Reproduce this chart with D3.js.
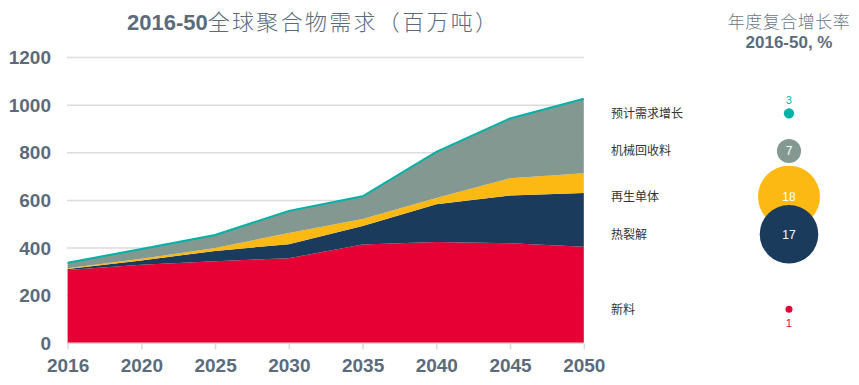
<!DOCTYPE html>
<html><head><meta charset="utf-8">
<script src="https://cdn.jsdelivr.net/npm/d3@7"></script>
<style>
body{margin:0;background:#fff;}
svg{display:block;}
</style></head>
<body>
<svg id="c" width="859" height="385"></svg>
<script>
// ---- data ----
const years = ["2016","2020","2025","2030","2035","2040","2045","2050"];
const virgin = [308,330,345,357,415,425,420,405];
const pyrolysis = [4,18,43,59,78,159,201,226];
const monomer = [3,7,12,47,29,26,72,83];
const mechanical = [23,41,55,93,95,194,251,313];
const yTicks = [0,200,400,600,800,1000,1200];
const cagrLabels = ["预计需求增长","机械回收料","再生单体","热裂解","新料"];
const cagrValues = [3,7,18,17,1];

const title = "2016-50";
const titleCn = "全球聚合物需求（百万吨）";

// ---- styling ----
const C = {red:"#e60033", navy:"#1b3b5d", yellow:"#fdb913", gray:"#839891", teal:"#00b2a7"};
const textCol = "#5b6b7c";
const svg = d3.select("#c");

const x = d3.scalePoint().domain(years).range([67.6, 583.8]);
const y = d3.scaleLinear().domain([0,1200]).range([343.3, 57.5]);

// gridlines
svg.append("g").selectAll("line").data(yTicks.filter(d=>d>0)).join("line")
  .attr("x1",67).attr("x2",584).attr("y1",d=>y(d)).attr("y2",d=>y(d))
  .attr("stroke","#dcdcdc").attr("stroke-width",1.5);

// stacked area
const rows = years.map((yr,i)=>({year:yr, virgin:virgin[i], pyrolysis:pyrolysis[i], monomer:monomer[i], mechanical:mechanical[i]}));
const keys = ["virgin","pyrolysis","monomer","mechanical"];
const colors = {virgin:C.red, pyrolysis:C.navy, monomer:C.yellow, mechanical:C.gray};
const stack = d3.stack().keys(keys)(rows);
const area = d3.area().x(d=>x(d.data.year)).y0(d=>y(d[0])).y1(d=>y(d[1]));
svg.append("g").selectAll("path").data(stack).join("path")
  .attr("d",area).attr("fill",d=>colors[d.key]);

// total line
const line = d3.line().x(d=>x(d.data.year)).y(d=>y(d[1]));
svg.append("path").datum(stack[stack.length-1]).attr("d",line)
  .attr("fill","none").attr("stroke",C.teal).attr("stroke-width",2);

// x axis
const xAxis = d3.axisBottom(x).tickSize(6).tickPadding(8);
const gx = svg.append("g").attr("transform",`translate(0,${y(0)})`).call(xAxis);
gx.select(".domain").attr("stroke","#d9d9d9").attr("stroke-width",1.5).attr("d","M67,0H584");
gx.selectAll(".tick line").attr("stroke","#d9d9d9").attr("stroke-width",1.5);
gx.selectAll(".tick text").attr("fill",textCol).attr("font-family","Liberation Sans, Arial, sans-serif")
  .attr("font-size",19).attr("font-weight","bold").attr("dy","0.8em");

// y axis
const yAxis = d3.axisLeft(y).tickValues(yTicks).tickSize(0).tickPadding(0).tickFormat(d3.format("d"));
const gy = svg.append("g").attr("transform","translate(51,0)").call(yAxis);
gy.select(".domain").remove();
gy.selectAll(".tick text").attr("fill",textCol).attr("font-family","Liberation Sans, Arial, sans-serif")
  .attr("font-size",19).attr("font-weight","bold");

// title
const t = svg.append("text").attr("x",127).attr("y",30)
  .attr("font-size",22).attr("fill",textCol);
t.append("tspan").attr("font-family","Liberation Sans, Arial, sans-serif").attr("font-weight","bold").text(title);
t.append("tspan").attr("font-family","Noto Sans CJK SC, sans-serif").attr("font-weight",300).attr("letter-spacing",2.3).text(titleCn);

// right panel title
svg.append("text").attr("x",789).attr("y",28).attr("text-anchor","middle")
  .attr("font-family","Noto Sans CJK SC, sans-serif").attr("font-weight",300).attr("font-size",17)
  .attr("letter-spacing",0.5).attr("fill","#6b7886").text("年度复合增长率");
svg.append("text").attr("x",789).attr("y",48).attr("text-anchor","middle")
  .attr("font-family","Liberation Sans, Arial, sans-serif").attr("font-weight","bold").attr("font-size",17)
  .attr("fill",textCol).text("2016-50, %");

// bubbles
const rowY = [113.3, 151, 196.7, 234.3, 309.3];
const bubbleCol = [C.teal, C.gray, C.yellow, C.navy, C.red];
const r = d3.scaleLinear().domain([0,18]).range([0,31]);
const bx = 789;
const bub = svg.append("g");
cagrValues.forEach((v,i)=>{
  const rad = Math.max(3.5, r(v));
  svg.append("text").attr("x",611).attr("y",rowY[i]).attr("dy","0.36em")
    .attr("font-family","Noto Sans CJK SC, sans-serif").attr("font-size",12).attr("fill","#333")
    .text(cagrLabels[i]);
  bub.append("circle").attr("cx",bx).attr("cy",rowY[i]).attr("r",rad).attr("fill",bubbleCol[i]);
  const inside = rad > 10;
  let ty = rowY[i], col = "#fff";
  if(!inside){
    if(i===0){ ty = rowY[i]-13; } else { ty = rowY[i]+14; }
    col = bubbleCol[i];
  }
  bub.append("text").attr("x",bx).attr("y",ty).attr("dy","0.36em").attr("text-anchor","middle")
    .attr("font-family","Liberation Sans, Arial, sans-serif").attr("font-size",inside?12:10.5)
    .attr("fill",col).text(v);
});
</script>
</body></html>
